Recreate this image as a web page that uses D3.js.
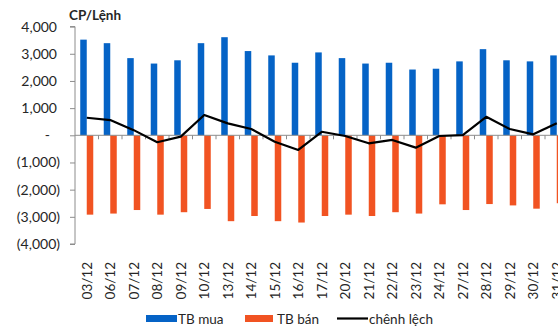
<!DOCTYPE html>
<html>
<head>
<meta charset="utf-8">
<script src="https://cdn.jsdelivr.net/npm/d3@7"></script>
<style>
  body { margin: 0; background: #fff; }
  svg { display: block; font-family: Lato, "Open Sans", sans-serif; }
</style>
</head>
<body>
<div id="chart"></div>
<script>
// Data
const dates = ["03/12", "06/12", "07/12", "08/12", "09/12", "10/12", "13/12", "14/12", "15/12", "16/12",
  "17/12", "20/12", "21/12", "22/12", "23/12", "24/12", "27/12", "28/12", "29/12", "30/12", "31/12"];
const buyAvg = [3520, 3390, 2840, 2640, 2760, 3390, 3610, 3100, 2940, 2670,
  3050, 2840, 2640, 2670, 2420, 2450, 2720, 3170, 2760, 2720, 2940];
const sellAvg = [-2920, -2880, -2750, -2920, -2830, -2710, -3160, -2970, -3160, -3210,
  -2970, -2920, -2970, -2830, -2880, -2540, -2750, -2530, -2580, -2700, -2500];
const diff = [645, 560, 190, -255, -50, 745, 440, 230, -235, -540,
  130, -25, -295, -170, -455, -25, 10, 680, 230, 35, 440];
const yTicks = [4000, 3000, 2000, 1000, 0, -1000, -2000, -3000, -4000];
const legendItems = ["TB mua", "TB bán", "chênh lệch"];

const W = 558, H = 327;
const blue = "#0563c6", orange = "#f15322", axisCol = "#8c8c8c", textCol = "#262626";

const svg = d3.select("#chart").append("svg")
  .attr("width", W).attr("height", H);

// Scales
const x = d3.scaleBand().domain(dates).range([75, 75 + dates.length * 23.5]).padding(0);
const y = d3.scaleLinear().domain([-4000, 4000]).range([244, 26.6]);
const bw = x.bandwidth() * 0.277;

// Bars: buy (blue, left of center) and sell (orange, right of center)
svg.append("g").selectAll("rect")
  .data(dates.map((d, i) => ({ d, v: buyAvg[i] })))
  .join("rect")
  .attr("x", p => x(p.d) + x.bandwidth() / 2 - bw)
  .attr("y", p => y(p.v))
  .attr("width", bw)
  .attr("height", p => y(0) - y(p.v))
  .attr("fill", blue);

svg.append("g").selectAll("rect")
  .data(dates.map((d, i) => ({ d, v: sellAvg[i] })))
  .join("rect")
  .attr("x", p => x(p.d) + x.bandwidth() / 2)
  .attr("y", y(0))
  .attr("width", bw)
  .attr("height", p => y(p.v) - y(0))
  .attr("fill", orange);

// Zero line axis with ticks at category boundaries
const xAxis = svg.append("g")
  .attr("transform", `translate(0,${y(0)})`);
xAxis.append("line")
  .attr("x1", x.range()[0]).attr("x2", x.range()[1])
  .attr("stroke", axisCol).attr("stroke-width", 1);
xAxis.selectAll(".tk")
  .data(dates)
  .join("line")
  .attr("x1", d => x(d) + x.bandwidth()).attr("x2", d => x(d) + x.bandwidth())
  .attr("y1", 0).attr("y2", 4)
  .attr("stroke", axisCol);

// Category labels, rotated
svg.append("g").selectAll("text")
  .data(dates)
  .join("text")
  .attr("transform", d => `translate(${x(d) + x.bandwidth() / 2 + 5},262) rotate(-90)`)
  .attr("text-anchor", "end")
  .attr("font-size", 13.5)
  .attr("fill", textCol)
  .text(d => d);

// Y axis
const fmt = v => v === 0 ? "-" : v < 0 ? `(${d3.format(",")(-v)})` : d3.format(",")(v);
const yAxis = svg.append("g")
  .attr("transform", "translate(75,0)")
  .call(d3.axisLeft(y).tickValues(yTicks).tickSize(5).tickFormat(fmt));
yAxis.select(".domain").attr("stroke", axisCol).attr("d", `M-5,${y(4000)}H0V${y(-4000)}H-5`);
yAxis.selectAll(".tick line").attr("stroke", axisCol);
yAxis.selectAll(".tick text")
  .attr("font-family", "Lato, sans-serif")
  .attr("font-size", 14)
  .attr("fill", textCol)
  .attr("x", v => v === 0 ? -25 : v < 0 ? -15 : -18);

// Unit title
svg.append("text")
  .attr("x", 69).attr("y", 20)
  .attr("font-size", 13.5).attr("font-weight", "bold")
  .attr("fill", textCol)
  .text("CP/Lệnh");

// Difference line
const line = d3.line()
  .x((v, i) => x(dates[i]) + x.bandwidth() / 2)
  .y(v => y(v));
svg.append("path")
  .datum(diff)
  .attr("fill", "none")
  .attr("stroke", "#000")
  .attr("stroke-width", 2.2)
  .attr("stroke-linejoin", "round")
  .attr("d", line);

// Legend
const legend = svg.append("g").attr("font-size", 13.5).attr("fill", textCol);
legend.append("rect").attr("x", 146).attr("y", 315).attr("width", 31).attr("height", 7).attr("fill", blue);
legend.append("text").attr("x", 178).attr("y", 324).text(legendItems[0]);
legend.append("rect").attr("x", 245).attr("y", 315).attr("width", 28).attr("height", 7).attr("fill", orange);
legend.append("text").attr("x", 277).attr("y", 324).text(legendItems[1]);
legend.append("line").attr("x1", 337).attr("x2", 368).attr("y1", 318.5).attr("y2", 318.5)
  .attr("stroke", "#000").attr("stroke-width", 2.2);
legend.append("text").attr("x", 369).attr("y", 324).text(legendItems[2]);
</script>
</body>
</html>
